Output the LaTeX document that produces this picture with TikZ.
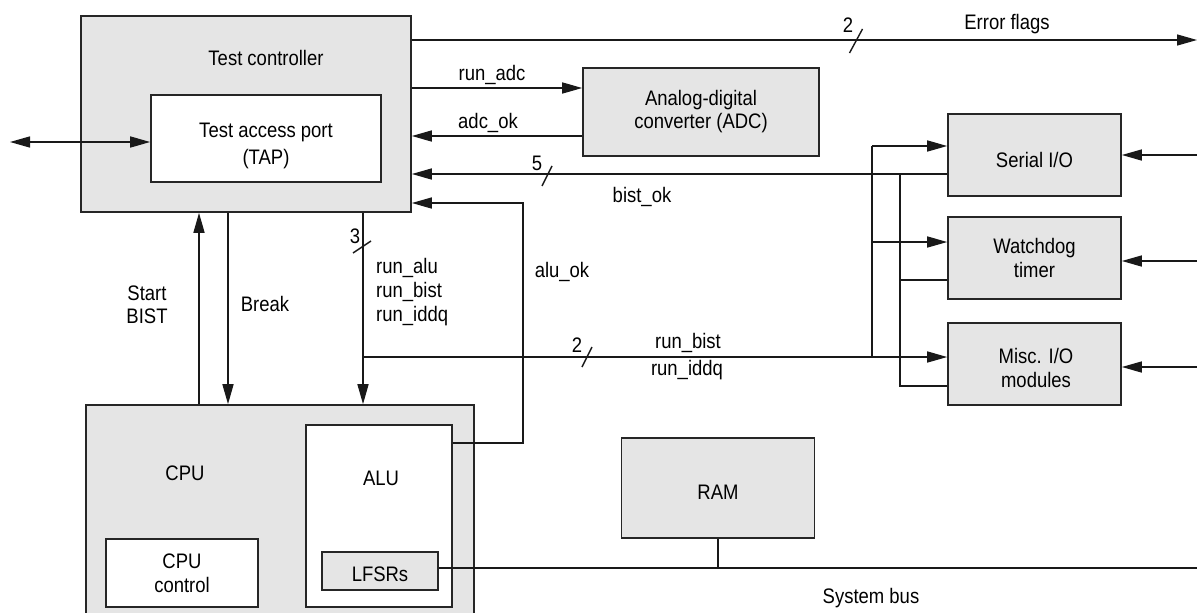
\documentclass[tikz,border=0pt]{standalone}
\usepackage{fontspec}
\setmainfont{Liberation Sans}[FakeStretch=0.88]
\usetikzlibrary{arrows.meta,calc}
\begin{document}
\begin{tikzpicture}[x=1pt,y=-1pt,
  every node/.style={font=\fontsize{21}{24}\selectfont, inner sep=0pt},
  box/.style={draw=black!85, line width=1.6pt, fill=black!10, align=center},
  wbox/.style={box, fill=white},
  wire/.style={line width=1.4pt, draw=black!90},
  tip/.style={-{Triangle[length=20pt,width=11pt]}},
  arr/.style={wire, tip},
  lbl/.style={anchor=base},
  lblw/.style={anchor=base west},
  txt/.style={align=center}]
\useasboundingbox (0,0) rectangle (1197,613);
\clip (0,0) rectangle (1197,613);

% boxes
\node[box, minimum width=330pt, minimum height=196pt] (tc) at (246,114) {};
\node[lbl] (tctitle) at (266,65) {Test controller};
\node[wbox, minimum width=230pt, minimum height=87pt] (tap) at (266,138.5) {};
\node[txt, font=\fontsize{21}{27}\selectfont] (taptext) at (266,146) {Test access port\\(TAP)};
\node[box, minimum width=236pt, minimum height=88pt, font=\fontsize{21}{23}\selectfont] (adc) at (701,112) {Analog-digital\\converter (ADC)};
\node[box, minimum width=173pt, minimum height=82pt, text height=24pt, text depth=0pt] (ser) at (1034.5,155) {Serial I/O};
\node[box, minimum width=173pt, minimum height=82pt] (wd) at (1034.5,258) {Watchdog\\timer};
\node[box, minimum width=173pt, minimum height=82pt] (misc) at (1034.5,364) {};
\node[txt] (misctext) at (1036,368) {Misc. I/O\\modules};
\node[box, minimum width=388pt, minimum height=240pt] (cpu) at (280,525) {};
\node[lbl] (cputitle) at (185,480) {CPU};
\node[wbox, minimum width=146pt, minimum height=182pt] (alu) at (379,516) {};
\node[lbl] (alutitle) at (381,485) {ALU};
\node[wbox, minimum width=152pt, minimum height=68pt] (cpuc) at (182,573) {CPU\\control};
\node[box, minimum width=116pt, minimum height=38pt, text height=21pt, text depth=0pt] (lfsr) at (380,571) {LFSRs};
\node[box, minimum width=193pt, minimum height=100pt, text height=23pt, text depth=0pt] (ram) at (718,488) {RAM};

% coordinates
\coordinate (tapL) at (10,142);
\coordinate (efR) at (1197,40);
\coordinate (aluok) at (523,203);
\coordinate (br) at (363,357);
\coordinate (fa) at (872,146);
\coordinate (fb) at (872,242);
\coordinate (fc) at (872,357);
\coordinate (oa) at (900,174);
\coordinate (ob) at (900,280);
\coordinate (oc) at (900,386);
\coordinate (ra) at (1197,155);
\coordinate (rb) at (1197,261);
\coordinate (rc) at (1197,367);
\coordinate (busR) at (1197,568);

% connectors
\draw[wire, {Triangle[length=20pt,width=11pt]}-{Triangle[length=20pt,width=11pt]}] (tapL) -- (tap.west |- tapL);
\draw[arr] (tc.east |- efR) -- (efR);
\draw[arr] (tc.east |- 0,88) -- (adc.west |- 0,88);
\draw[arr] (adc.west |- 0,136) -- (tc.east |- 0,136);
\draw[arr] (ser.west |- oa) -- (tc.east |- oa);
\draw[arr] (alu.east |- 0,443) -| (aluok) -- (tc.east |- aluok);
\draw[arr] (cpu.north -| 199,0) -- (tc.south -| 199,0);
\draw[arr] (tc.south -| 228,0) -- (cpu.north -| 228,0);
\draw[arr] (tc.south -| br) -- (cpu.north -| br);
\draw[arr] (br) -- (misc.west |- br);
\draw[wire] (fa) -- (fc);
\draw[arr] (fa) -- (ser.west |- fa);
\draw[arr] (fb) -- (wd.west |- fb);
\draw[wire] (wd.west |- ob) -- (ob);
\draw[wire] (misc.west |- oc) -- (oc) -- (oa);
\draw[arr] (ra) -- (ser.east |- ra);
\draw[arr] (rb) -- (wd.east |- rb);
\draw[arr] (rc) -- (misc.east |- rc);
\draw[wire] (lfsr.east |- busR) -- (busR);
\draw[wire] (ram.south) -- (ram.south |- busR);

% bus-width slashes
\draw[wire] (856,41) ++(-6.5,12) -- ++(13,-24);
\draw[wire] (547,176) ++(-5,10) -- ++(10,-20);
\draw[wire] (362,247) ++(-9,6) -- ++(18,-12);
\draw[wire] (587,357) ++(-5,10) -- ++(10,-20);

% labels
\node[lbl] (l2a) at (848,32) {2};
\node[lbl] (lef) at (1007,29) {Error flags};
\node[lbl] (lradc) at (492,80) {run\_adc};
\node[lbl] (ladcok) at (488,128) {adc\_ok};
\node[lbl] (l5) at (537,170) {5};
\node[lbl] (lbist) at (642,202) {bist\_ok};
\node[lbl] (l3) at (355,243) {3};
\node[lblw] (lra) at (376,273) {run\_alu};
\node[lblw] (lrb) at (376,297) {run\_bist};
\node[lblw] (lri) at (376,321) {run\_iddq};
\node[lbl] (laluok) at (562,277) {alu\_ok};
\node[lbl] (l2b) at (577,352) {2};
\node[lbl] (lrb2) at (688,348) {run\_bist};
\node[lbl] (lri2) at (687,375) {run\_iddq};
\node[lbl] (lstart) at (147,300) {Start};
\node[lbl] (lbist2) at (147,323) {BIST};
\node[lbl] (lbreak) at (265,311) {Break};
\node[lbl] (lbus) at (871,603) {System bus};
\end{tikzpicture}
\end{document}
